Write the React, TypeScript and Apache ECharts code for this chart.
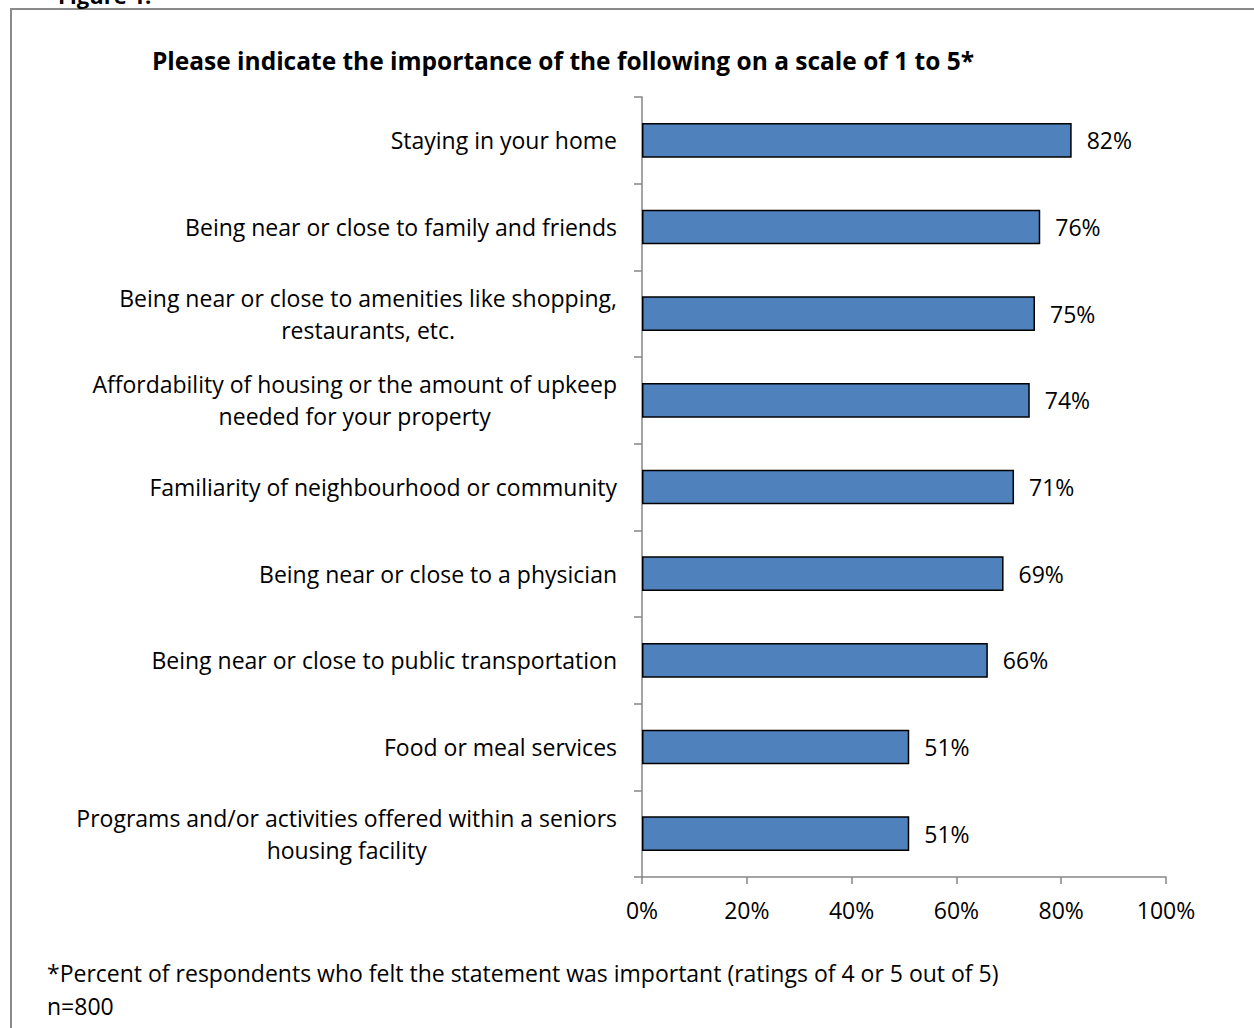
import React, { useEffect, useRef } from "react";
import * as echarts from "echarts";

const categories: string[] = [
  "Staying in your home",
  "Being near or close to family and friends",
  "Being near or close to amenities like shopping,\nrestaurants, etc.",
  "Affordability of housing or the amount of upkeep\nneeded for your property",
  "Familiarity of neighbourhood or community",
  "Being near or close to a physician",
  "Being near or close to public transportation",
  "Food or meal services",
  "Programs and/or activities offered within a seniors\nhousing facility",
];
const values: number[] = [82, 76, 75, 74, 71, 69, 66, 51, 51];
const xTicks: number[] = [0, 20, 40, 60, 80, 100];

const titleText = "Please indicate the importance of the following on a scale of 1 to 5*";
const figureText = "Figure 1:";
const footnote1 = "*Percent of respondents who felt the statement was important (ratings of 4 or 5 out of 5)";
const footnote2 = "n=800";

const FONT = "'Open Sans', 'Noto Sans', sans-serif";
const AXIS_COLOR = "#868686";
const FS = 23;

export default function App() {
  const ref = useRef<HTMLDivElement>(null);
  useEffect(() => {
    if (!ref.current) return;
    const chart = echarts.init(ref.current, null, { renderer: "svg" });
    chart.setOption({
      animation: false,
      backgroundColor: "#ffffff",
      textStyle: { fontFamily: FONT },
      grid: { left: 642, right: 88, top: 97, bottom: 151, containLabel: false },
      xAxis: {
        type: "value",
        min: xTicks[0],
        max: xTicks[xTicks.length - 1],
        interval: 20,
        axisLine: { show: true, lineStyle: { color: AXIS_COLOR, width: 1.5 } },
        axisTick: { show: true, length: 7, lineStyle: { color: AXIS_COLOR, width: 1.5 } },
        splitLine: { show: false },
        axisLabel: {
          formatter: "{value}%",
          fontSize: FS,
          color: "#000",
          margin: 21,
          fontFamily: FONT,
        },
      },
      yAxis: {
        type: "category",
        data: categories,
        inverse: true,
        axisLine: { show: true, lineStyle: { color: AXIS_COLOR, width: 1.5 } },
        axisTick: { show: true, length: 8, lineStyle: { color: AXIS_COLOR, width: 1.5 } },
        axisLabel: {
          margin: 25,
          color: "#000",
          fontSize: FS,
          lineHeight: 32,
          fontFamily: FONT,
          formatter: (v: string) =>
            v
              .split("\n")
              .map((l) => "{c|" + l + "}")
              .join("\n"),
          rich: {
            c: { align: "center", fontSize: FS, lineHeight: 32, color: "#000", fontFamily: FONT },
          },
        },
      },
      series: [
        {
          type: "bar",
          data: values,
          barWidth: "40%",
          itemStyle: { color: "#4F81BD", borderColor: "#000", borderWidth: 1.5 },
          label: {
            show: true,
            position: "right",
            distance: 15,
            formatter: "{c}%",
            fontSize: FS,
            color: "#000",
            fontFamily: FONT,
          },
        },
      ],
      graphic: [
        {
          type: "rect",
          shape: { x: 11, y: 9, width: 1300, height: 1100 },
          style: { fill: "none", stroke: "#8a8a8a", lineWidth: 2 },
          silent: true,
        },
        {
          type: "text",
          x: 58,
          y: 6,
          style: {
            text: figureText,
            font: "bold 22px " + FONT,
            fill: "#000",
            verticalAlign: "bottom",
          },
        },
        {
          type: "text",
          x: 563,
          y: 60,
          style: {
            text: titleText,
            font: "bold 24.5px " + FONT,
            fill: "#000",
            align: "center",
            verticalAlign: "middle",
          },
        },
        {
          type: "text",
          x: 47,
          y: 973,
          style: {
            text: footnote1,
            font: FS + "px " + FONT,
            fill: "#000",
            align: "left",
            verticalAlign: "middle",
          },
        },
        {
          type: "text",
          x: 47,
          y: 1006,
          style: {
            text: footnote2,
            font: FS + "px " + FONT,
            fill: "#000",
            align: "left",
            verticalAlign: "middle",
          },
        },
      ],
    });
    return () => chart.dispose();
  }, []);
  return (
    <div
      ref={ref}
      style={{ position: "absolute", left: 0, top: 0, width: 1254, height: 1028 }}
    />
  );
}
